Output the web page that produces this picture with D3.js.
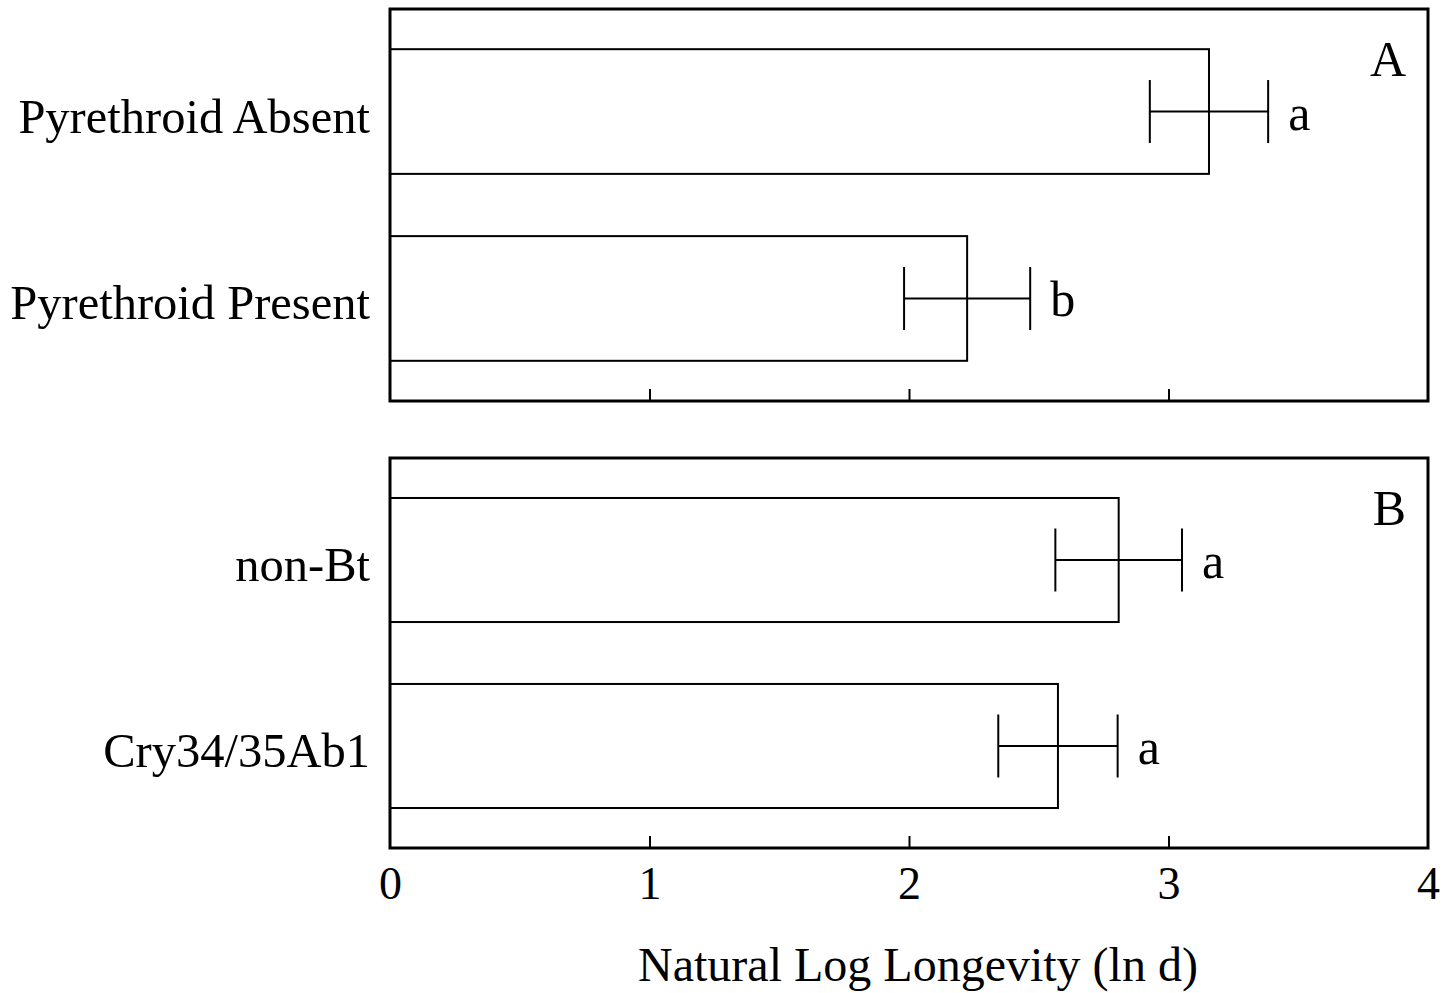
<!DOCTYPE html>
<html><head><meta charset="utf-8">
<script src="https://cdn.jsdelivr.net/npm/d3@7"></script>
<style>body{margin:0;background:#fff}svg{display:block}text{font-family:"Liberation Serif","Times New Roman",serif;fill:#000}</style>
</head><body>
<svg id="c" width="1444" height="993"></svg>
<script>
const panelALabels = ["Pyrethroid Absent", "Pyrethroid Present"];
const panelAMeans = [3.156, 2.224];
const panelAErrors = [0.228, 0.243];
const panelALetters = ["a", "b"];
const panelBLabels = ["non-Bt", "Cry34/35Ab1"];
const panelBMeans = [2.808, 2.574];
const panelBErrors = [0.244, 0.23];
const panelBLetters = ["a", "a"];
const xTicks = [0, 1, 2, 3, 4];
const panelNames = ["A", "B"];
const axisTitle = "Natural Log Longevity (ln d)";

const svg = d3.select("#c");
const x = d3.scaleLinear().domain([0, 4]).range([390, 1428]);

const panels = [
  {name: panelNames[0], labels: panelALabels, means: panelAMeans, errs: panelAErrors, letters: panelALetters, top: 9, bottom: 401, tickLabels: false},
  {name: panelNames[1], labels: panelBLabels, means: panelBMeans, errs: panelBErrors, letters: panelBLetters, top: 458, bottom: 848, tickLabels: true}
];

panels.forEach(p => {
  const y = d3.scaleBand().domain(p.labels).range([p.top, p.bottom]).paddingInner(0.333).paddingOuter(0.215);
  const g = svg.append("g");
  const data = p.labels.map((l, i) => ({label: l, mean: p.means[i], err: p.errs[i], letter: p.letters[i]}));

  g.selectAll("rect.bar").data(data).enter().append("rect")
    .attr("x", x(0)).attr("y", d => y(d.label))
    .attr("width", d => x(d.mean) - x(0)).attr("height", y.bandwidth())
    .attr("fill", "#fff").attr("stroke", "#000").attr("stroke-width", 2);

  const capH = 63;
  data.forEach(d => {
    const cy = y(d.label) + y.bandwidth() / 2;
    g.append("line").attr("x1", x(d.mean - d.err)).attr("x2", x(d.mean + d.err)).attr("y1", cy).attr("y2", cy).attr("stroke", "#000").attr("stroke-width", 2);
    [d.mean - d.err, d.mean + d.err].forEach(v => {
      g.append("line").attr("x1", x(v)).attr("x2", x(v)).attr("y1", cy - capH / 2).attr("y2", cy + capH / 2).attr("stroke", "#000").attr("stroke-width", 2);
    });
    g.append("text").attr("x", x(d.mean + d.err) + 20).attr("y", cy + 18).attr("font-size", 50).text(d.letter);
    g.append("text").attr("x", 370).attr("y", cy + 21).attr("text-anchor", "end").attr("font-size", 48.5).text(d.label);
  });

  g.append("rect").attr("x", x(0)).attr("y", p.top).attr("width", x(4) - x(0)).attr("height", p.bottom - p.top)
    .attr("fill", "none").attr("stroke", "#000").attr("stroke-width", 3);

  const axis = d3.axisBottom(x).tickValues(xTicks).tickSizeInner(-12).tickSizeOuter(0).tickPadding(20)
    .tickFormat(p.tickLabels ? d3.format("d") : () => "");
  const ag = g.append("g").attr("transform", `translate(0,${p.bottom})`).call(axis);
  ag.select(".domain").remove();
  ag.selectAll(".tick line").attr("stroke", "#000").attr("stroke-width", 2)
    .filter(d => d === 0 || d === 4).remove();
  ag.selectAll(".tick text").attr("font-size", 46).attr("font-family", '"Liberation Serif", serif').attr("fill", "#000")
    .attr("dy", null).attr("y", 51);

  g.append("text").attr("x", 1406).attr("y", p.top + 67).attr("text-anchor", "end").attr("font-size", 50).text(p.name);
});

svg.append("text").attr("x", 918).attr("y", 981).attr("text-anchor", "middle").attr("font-size", 48).text(axisTitle);
</script>
</body></html>
